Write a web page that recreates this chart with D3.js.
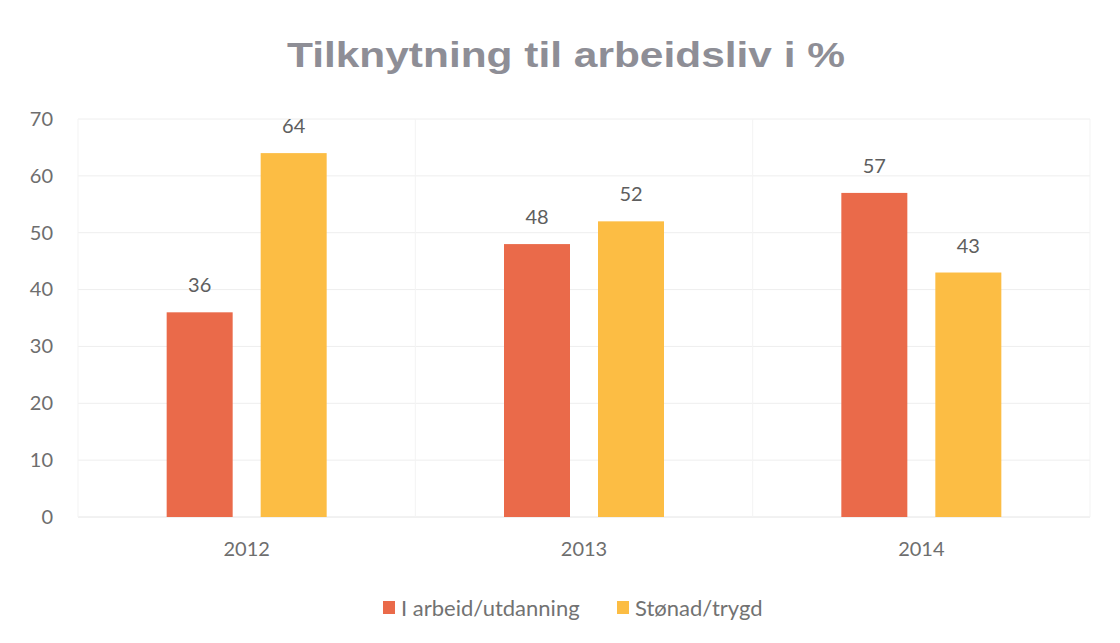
<!DOCTYPE html>
<html>
<head>
<meta charset="utf-8"/>
<title>Tilknytning til arbeidsliv</title>
<script src="https://cdn.jsdelivr.net/npm/d3@7"></script>
<style>
  body { margin: 0; background: #fff; }
  svg text { font-family: Lato, "Open Sans", sans-serif; }
</style>
</head>
<body>
<div id="chart"></div>
<script>
// data
var years = ["2012", "2013", "2014"];
var seriesNames = ["I arbeid/utdanning", "Stønad/trygd"];
var arbeid = [36, 48, 57];
var stonad = [64, 52, 43];
var yTicks = [0, 10, 20, 30, 40, 50, 60, 70];
var colors = ["#EA6A4A", "#FCBD44"];

var W = 1120, H = 643;
var svg = d3.select("#chart").append("svg")
    .attr("width", W)
    .attr("height", H);

// plot box (don't call it "top", clashes with window.top)
var plotL = 78, plotR = 1090, plotT = 119, plotB = 517;

var barW = 66, gap = 28, groupW = 2 * barW + gap;

var x = d3.scaleBand().domain(years).range([plotL, plotR]);
var xInner = d3.scaleBand().domain([0, 1]).range([0, groupW]).paddingInner(gap / (barW + gap));
var y = d3.scaleLinear().domain([0, 70]).range([plotB, plotT]);

// title
svg.append("text")
    .attr("x", 287).attr("y", 67)
    .attr("textLength", 558)
    .attr("lengthAdjust", "spacingAndGlyphs")
    .style("font-family", "'Liberation Sans', Arial, sans-serif")
    .style("font-weight", "bold")
    .style("font-size", "35px")
    .attr("fill", "#8e8e96")
    .text("Tilknytning til arbeidsliv i %");

// gridlines
svg.append("g").selectAll("line")
    .data(yTicks)
    .enter().append("line")
    .attr("x1", plotL).attr("x2", plotR)
    .attr("y1", function(d) { return y(d); })
    .attr("y2", function(d) { return y(d); })
    .attr("stroke", d => d == 0 ? "#e4e4e4" : "#eeeeee")
    .attr("stroke-width", 1);

// faint vertical lines at the category edges
var edges = years.map(function(d) { return x(d); }).concat([plotR]);
svg.append("g").selectAll("line")
    .data(edges)
    .enter().append("line")
    .attr("x1", d => d).attr("x2", d => d)
    .attr("y1", plotT).attr("y2", plotB)
    .attr("stroke", "#f3f3f3");

// y axis labels
var yAxis = svg.append("g")
    .attr("transform", "translate(" + (plotL - 25) + ",0)")
    .call(d3.axisLeft(y).tickValues(yTicks).tickSize(0).tickPadding(0));
yAxis.select(".domain").remove();
yAxis.selectAll("text")
    .style("font-family", "Lato, sans-serif")
    .style("font-size", "20px")
    .attr("fill", "#6e6e6e");

// x axis labels
var xAxis = svg.append("g")
    .attr("transform", "translate(0," + (plotB + 25) + ")")
    .call(d3.axisBottom(x).tickSize(0).tickPadding(0));
xAxis.select(".domain").remove();
xAxis.selectAll("text")
    .style("font-family", "Lato, sans-serif")
    .style("font-size", "20px")
    .attr("fill", "#6e6e6e");

// bars + value labels
var series = [arbeid, stonad];
series.forEach(function(vals, s) {
    var g = svg.append("g");
    var off = (x.bandwidth() - groupW) / 2 + xInner(s);
    g.selectAll("rect")
        .data(vals)
        .enter().append("rect")
        .attr("x", function(d, i) { return x(years[i]) + off; })
        .attr("y", function(d) { return y(d); })
        .attr("width", xInner.bandwidth())
        .attr("height", function(d) { return plotB - y(d); })
        .attr("fill", colors[s]);
    g.selectAll("text")
        .data(vals)
        .enter().append("text")
        .attr("x", function(d, i) { return x(years[i]) + off + xInner.bandwidth() / 2; })
        .attr("y", function(d) { return y(d) - 20; })
        .attr("text-anchor", "middle")
        .style("font-size", "20px")
        .attr("fill", "#5e5e5e")
        .text(function(d) { return d; });
});

// legend
var legX = [383, 617];
var leg = svg.append("g");
seriesNames.forEach(function(n, i) {
    leg.append("rect")
        .attr("x", legX[i]).attr("y", 601)
        .attr("width", 12).attr("height", 13)
        .attr("fill", colors[i]);
    leg.append("text")
        .attr("x", legX[i] + 18).attr("y", 616)
        .style("font-size", "22px")
        .attr("fill", "#727272")
        .text(n);
});
</script>
</body>
</html>
